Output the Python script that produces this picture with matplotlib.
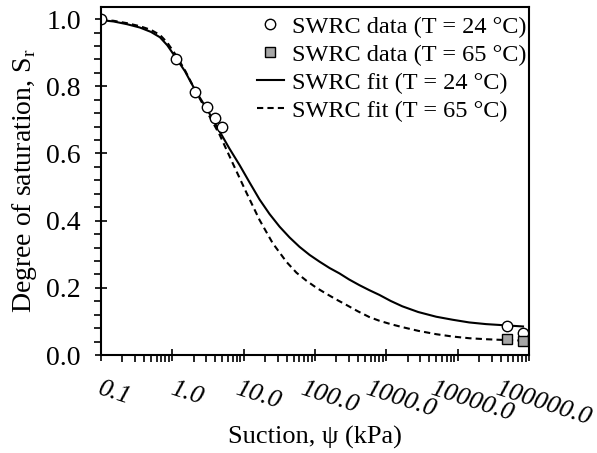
import numpy as np
import matplotlib.pyplot as plt
import matplotlib.transforms as mtransforms
from matplotlib.ticker import FixedLocator, MultipleLocator, NullFormatter

plt.rcParams['font.family'] = ['Liberation Serif', 'DejaVu Serif']

# Datos medidos (curva de retención)
psi_24 = [0.1, 1.12, 2.07, 3.1, 4.0, 4.98, 49800, 82400]
sr_24 = [1.0, 0.881, 0.783, 0.738, 0.706, 0.679, 0.087, 0.066]
psi_65 = [49800, 82400]
sr_65 = [0.048, 0.042]

# Curvas de ajuste
fit24_psi = [0.1, 0.15, 0.23, 0.35, 0.5, 0.67, 0.85, 1.12, 1.5, 2.07, 3.1, 4.62,
             6.3, 8.79, 12, 16.7, 23, 31.9, 44, 60.7, 84, 115.6, 160, 220, 300,
             419, 578, 798, 1150, 1675, 2800, 5000, 8500, 14500, 25000, 41900, 82400]
fit24_sr = [0.997, 0.993, 0.985, 0.975, 0.962, 0.946, 0.922, 0.885, 0.845, 0.79,
            0.73, 0.665, 0.615, 0.565, 0.515, 0.463, 0.42, 0.382, 0.35, 0.322,
            0.298, 0.278, 0.259, 0.243, 0.225, 0.208, 0.193, 0.179, 0.161, 0.145,
            0.128, 0.114, 0.105, 0.097, 0.092, 0.089, 0.085]
fit65_psi = [0.1, 0.15, 0.23, 0.35, 0.5, 0.67, 0.85, 1.12, 1.5, 2.07, 3.1, 4.62,
             7.02, 11.0, 16.7, 25.5, 39.9, 55, 76, 105, 145, 200, 276, 400, 578,
             798, 1150, 1675, 2800, 5000, 8500, 14500, 25000, 41900, 82400]
fit65_sr = [0.998, 0.995, 0.988, 0.979, 0.968, 0.953, 0.93, 0.893, 0.848, 0.79,
            0.722, 0.655, 0.571, 0.482, 0.402, 0.333, 0.277, 0.245, 0.221, 0.2,
            0.182, 0.165, 0.149, 0.13, 0.113, 0.102, 0.092, 0.083, 0.072, 0.062,
            0.055, 0.05, 0.047, 0.045, 0.043]

xticks = [0.1, 1, 10, 100, 1000, 10000, 100000]
xticklabels = ['0.1', '1.0', '10.0', '100.0', '1000.0', '10000.0', '100000.0']

fig = plt.figure(figsize=(5.97, 4.53), dpi=100)
ax = fig.add_axes([0.1692, 0.2163, 0.7169, 0.7682])

l1, = ax.plot(fit24_psi, fit24_sr, color='black', linewidth=1.5, linestyle='-')
l2, = ax.plot(fit65_psi, fit65_sr, color='black', linewidth=1.5, linestyle=(0, (3, 2)))
m1, = ax.plot(psi_24, sr_24, linestyle='none', marker='o', markersize=7.5,
              markerfacecolor='white', markeredgecolor='black', markeredgewidth=1)
m2, = ax.plot(psi_65, sr_65, linestyle='none', marker='s', markersize=7.5,
              markerfacecolor='#a6a6a6', markeredgecolor='black', markeredgewidth=1)

ax.set_xscale('log')
ax.set_xlim(0.1, 100000)
ax.set_ylim(0, 1.036)

ax.yaxis.set_minor_locator(MultipleLocator(0.04))
ax.set_yticks([0, 0.2, 0.4, 0.6, 0.8, 1.0])
ax.set_yticklabels(['0.0', '0.2', '0.4', '0.6', '0.8', '1.0'], fontsize=20)

ax.tick_params(axis='both', which='major', direction='inout', length=9, width=1.2)
ax.tick_params(axis='both', which='minor', direction='out', length=5, width=1.2)
ax.tick_params(axis='y', which='major', pad=10)
ax.tick_params(axis='x', which='major', pad=12)

ax.xaxis.set_major_locator(FixedLocator(xticks))
ax.set_xticklabels(xticklabels, fontsize=19, fontstyle='italic', rotation=-18,
                   ha='center', va='top')
ax.xaxis.set_minor_formatter(NullFormatter())
offset = mtransforms.ScaledTranslation(14 / 100, 0, fig.dpi_scale_trans)
for lab in ax.xaxis.get_majorticklabels():
    lab.set_transform(lab.get_transform() + offset)

for sp in ax.spines.values():
    sp.set_linewidth(1.5)

ax.set_xlabel('Suction, ψ (kPa)', fontsize=19, va='center')
ax.xaxis.set_label_coords(0.5, -0.236)
ax.set_ylabel(r'Degree of saturation, S$_\mathregular{r}$', fontsize=20, va='center')
ax.yaxis.set_label_coords(-0.178, 0.5)

ax.legend([m1, m2, l1, l2],
          ['SWRC data (T = 24 °C)', 'SWRC data (T = 65 °C)',
           'SWRC fit (T = 24 °C)', 'SWRC fit (T = 65 °C)'],
          loc='upper right', bbox_to_anchor=(0.995, 0.975), frameon=False,
          fontsize=17.5, handlelength=1.1, handletextpad=0.35, labelspacing=0.25,
          borderaxespad=0, borderpad=0)

fig.savefig('out.png', dpi=100)
